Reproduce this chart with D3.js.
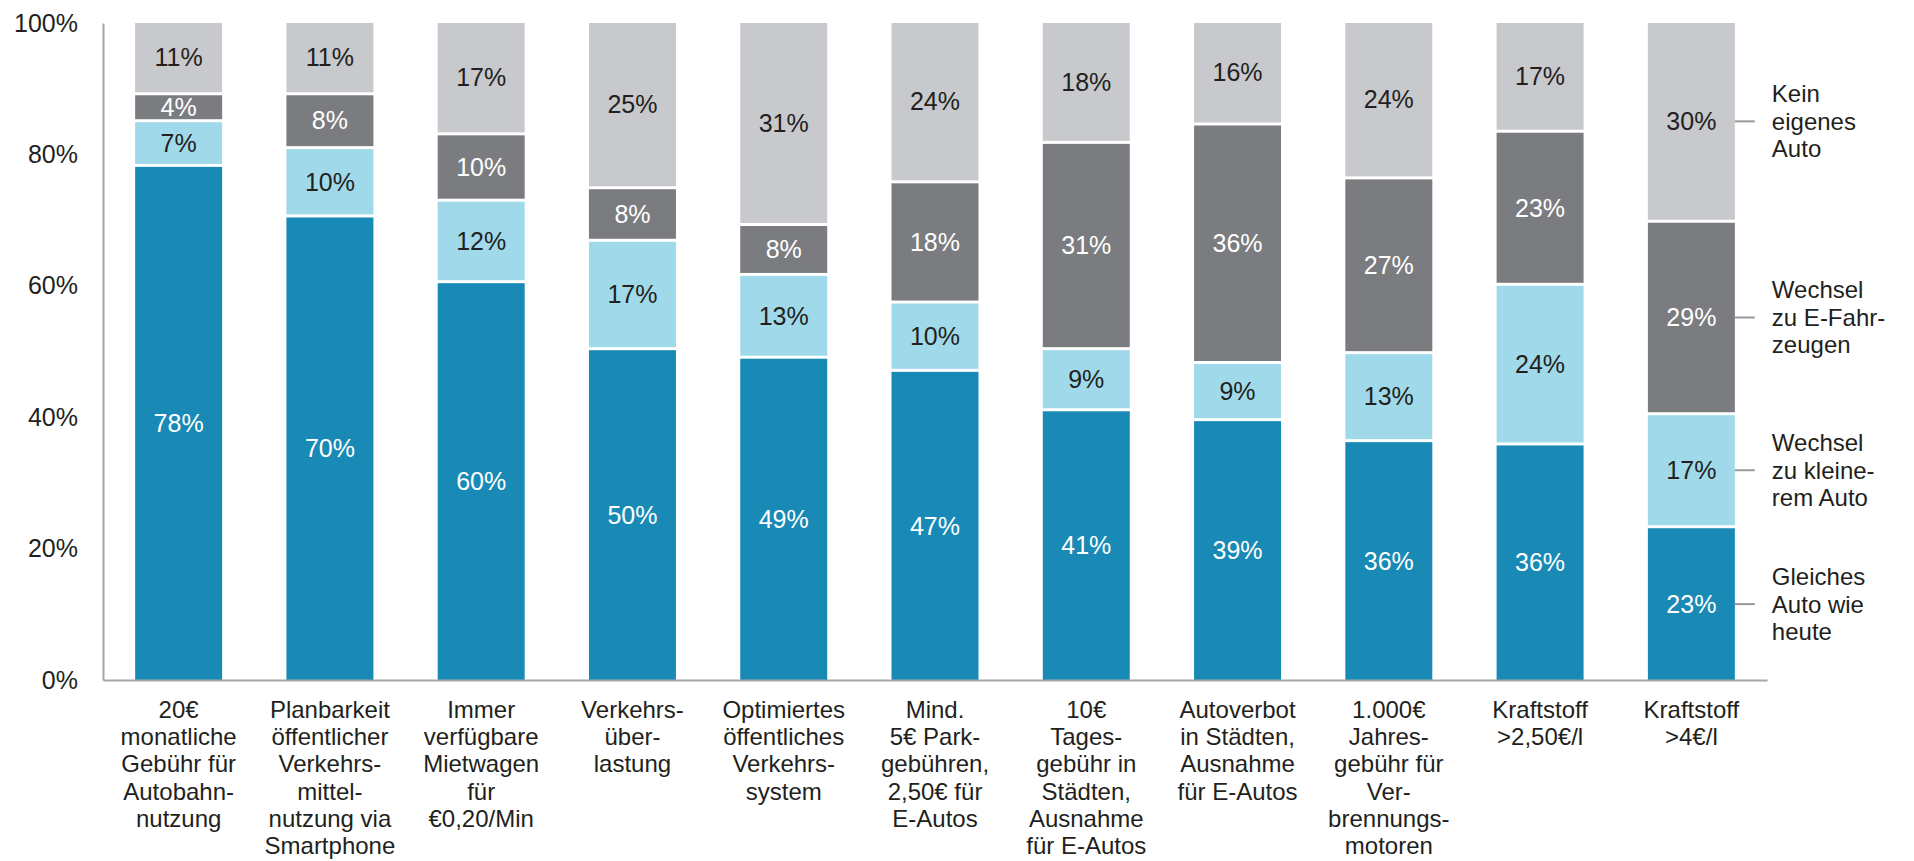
<!DOCTYPE html>
<html>
<head>
<meta charset="utf-8">
<script src="https://cdn.jsdelivr.net/npm/d3@7"></script>
<style>
  body { margin: 0; background: #fff; }
  text { font-family: "Liberation Sans", Arial, sans-serif; fill: #231f20; }
</style>
</head>
<body>
<div class="svg_container"></div>
<script>
// categories (line breaks as in the original)
var categories = [
  ["20€", "monatliche", "Gebühr für", "Autobahn-", "nutzung"],
  ["Planbarkeit", "öffentlicher", "Verkehrs-", "mittel-", "nutzung via", "Smartphone"],
  ["Immer", "verfügbare", "Mietwagen", "für", "€0,20/Min"],
  ["Verkehrs-", "über-", "lastung"],
  ["Optimiertes", "öffentliches", "Verkehrs-", "system"],
  ["Mind.", "5€ Park-", "gebühren,", "2,50€ für", "E-Autos"],
  ["10€", "Tages-", "gebühr in", "Städten,", "Ausnahme", "für E-Autos"],
  ["Autoverbot", "in Städten,", "Ausnahme", "für E-Autos"],
  ["1.000€", "Jahres-", "gebühr für", "Ver-", "brennungs-", "motoren"],
  ["Kraftstoff", ">2,50€/l"],
  ["Kraftstoff", ">4€/l"]
];

// series, bottom to top (%)
var gleichesAuto = [78.1, 70.4, 60.4, 50.2, 48.9, 46.9, 40.9, 39.4, 36.2, 35.7, 23.1];
var kleineresAuto = [6.8, 10.4, 12.4, 16.5, 12.6, 10.4, 9.3, 8.7, 13.4, 24.3, 17.2];
var eFahrzeuge = [4.1, 8.2, 10.1, 8.0, 7.6, 18.3, 31.4, 36.3, 26.6, 23.3, 29.3];
var keinAuto = [11.0, 11.0, 17.1, 25.3, 30.9, 24.4, 18.4, 15.6, 23.8, 16.7, 30.4];

var seriesNames = [
  ["Gleiches", "Auto wie", "heute"],
  ["Wechsel", "zu kleine-", "rem Auto"],
  ["Wechsel", "zu E-Fahr-", "zeugen"],
  ["Kein", "eigenes", "Auto"]
];

var yTicks = [0, 20, 40, 60, 80, 100];

var colors = ["#188ab5", "#a0daea", "#7b7c80", "#c8c9cc"];
var labelColors = ["#ffffff", "#231f20", "#ffffff", "#231f20"];

var width = 1914, height = 861;

var svg = d3.select(".svg_container").append("svg")
    .attr("width", width)
    .attr("height", height);

// build table for the stack
var table = categories.map(function(c, i) {
  return {idx: i, s0: gleichesAuto[i], s1: kleineresAuto[i], s2: eFahrzeuge[i], s3: keinAuto[i]};
});
var stack = d3.stack().keys(["s0", "s1", "s2", "s3"]);
var layers = stack(table);

var xScale = d3.scaleBand()
  .domain(d3.range(categories.length))
  .range([103, 1767])
  .paddingInner(0.425)
  .paddingOuter(0.2125);

var yScale = d3.scaleLinear()
  .domain([0, 100])
  .range([680, 23]);

var gap = 3;

// bars
var layer = svg.selectAll(".layer")
  .data(layers)
  .enter()
  .append("g")
    .attr("class", "layer")
    .attr("fill", function(d, i) { return colors[i]; });

layer.selectAll("rect")
  .data(function(d) { return d; })
  .enter()
  .append("rect")
    .attr("x", function(d) { return xScale(d.data.idx); })
    .attr("width", xScale.bandwidth())
    .attr("y", function(d) { return yScale(d[1]); })
    .attr("height", function(d) {
      var h = yScale(d[0]) - yScale(d[1]);
      return d[0] === 0 ? h : h - gap;
    });

// value labels
layer.selectAll("text")
  .data(function(d) { return d; })
  .enter()
  .append("text")
    .attr("x", function(d) { return xScale(d.data.idx) + xScale.bandwidth() / 2; })
    .attr("y", function(d) {
      var bottom = d[0] === 0 ? yScale(d[0]) : yScale(d[0]) - gap;
      return (yScale(d[1]) + bottom) / 2;
    })
    .attr("dy", "0.35em")
    .attr("text-anchor", "middle")
    .style("font-size", "25px")
    .style("fill", function(d) { return labelColors[layers.indexOf(d3.select(this.parentNode).datum())]; })
    .text(function(d) { return Math.round(d[1] - d[0]) + "%"; });

// y axis
var yAxis = svg.append("g")
  .attr("class", "y axis")
  .attr("transform", "translate(103,0)")
  .call(d3.axisLeft(yScale).tickValues(yTicks).tickSize(0).tickPadding(25)
    .tickFormat(function(d) { return d + "%"; }));

yAxis.select(".domain").attr("stroke", "#a6a6a6").attr("stroke-width", 2);
yAxis.selectAll("text")
  .style("font-size", "25px")
  .style("font-family", "'Liberation Sans', Arial, sans-serif")
  .attr("fill", "#231f20");

// x axis (baseline only)
var xAxis = svg.append("g")
  .attr("class", "x axis")
  .attr("transform", "translate(0,680)")
  .call(d3.axisBottom(xScale).tickSize(0).tickFormat(""));

xAxis.select(".domain").attr("stroke", "#a6a6a6").attr("stroke-width", 2);

// category labels
var catLabel = svg.selectAll(".cat")
  .data(categories)
  .enter()
  .append("text")
    .attr("class", "cat")
    .attr("text-anchor", "middle")
    .style("font-size", "24px")
    .attr("transform", function(d, i) {
      return "translate(" + (xScale(i) + xScale.bandwidth() / 2) + ",718)";
    });

catLabel.selectAll("tspan")
  .data(function(d) { return d; })
  .enter()
  .append("tspan")
    .attr("x", 0)
    .attr("y", function(d, i) { return i * 27.2; })
    .text(function(d) { return d; });

// legend at the last bar
var last = categories.length - 1;
var legend = svg.selectAll(".legend")
  .data(layers)
  .enter()
  .append("g")
    .attr("class", "legend")
    .attr("transform", function(d) {
      var seg = d[last];
      var bottom = seg[0] === 0 ? yScale(seg[0]) : yScale(seg[0]) - gap;
      return "translate(" + (xScale(last) + xScale.bandwidth()) + "," + ((yScale(seg[1]) + bottom) / 2) + ")";
    });

legend.append("line")
  .attr("x1", 0)
  .attr("x2", 20)
  .attr("stroke", "#9a9a9a")
  .attr("stroke-width", 2);

legend.append("text")
  .style("font-size", "24px")
  .selectAll("tspan")
  .data(function(d, i) { return seriesNames[i]; })
  .enter()
  .append("tspan")
    .attr("x", 37)
    .attr("y", function(d, i) { return (i - 1) * 27.6; })
    .attr("dy", "0.35em")
    .text(function(d) { return d; });
</script>
</body>
</html>
